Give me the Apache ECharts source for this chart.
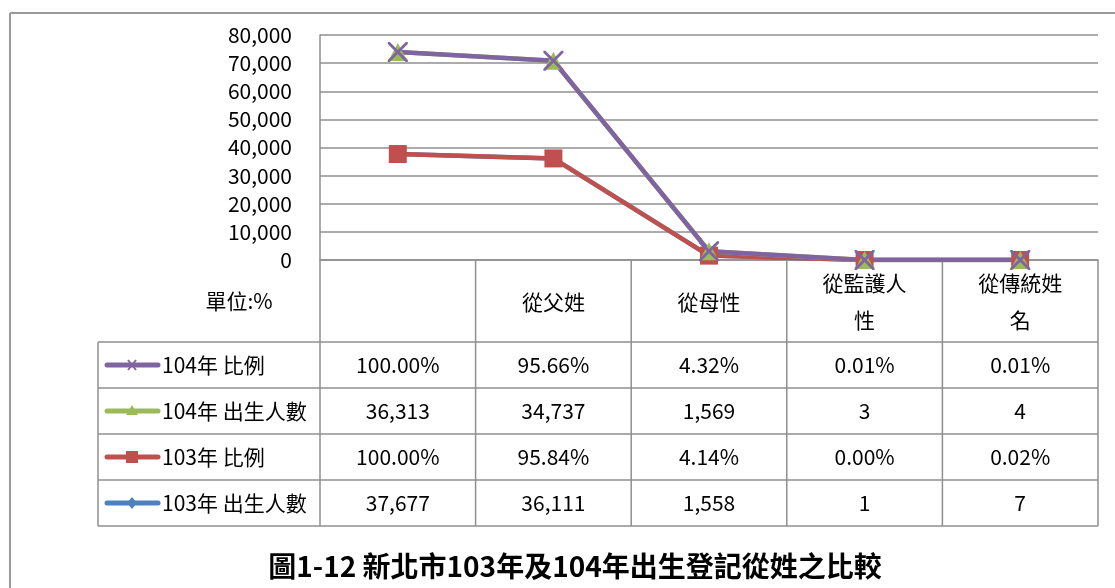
<!DOCTYPE html>
<html><head><meta charset="utf-8">
<script src="https://cdn.jsdelivr.net/npm/echarts@6/dist/echarts.min.js"></script>
<style>html,body{margin:0;padding:0;background:#fff}#c{width:1115px;height:588px}</style>
</head><body><div id="c"></div>
<script>
const categories = ['', '從父姓', '從母性', '從監護人\n性', '從傳統姓\n名'];
const births103 = [37677, 36111, 1558, 1, 7];
const ratio103 = [1.0000, 0.9584, 0.0414, 0.0000, 0.0002];
const births104 = [36313, 34737, 1569, 3, 4];
const ratio104 = [1.0000, 0.9566, 0.0432, 0.0001, 0.0001];
const yTicks = [0, 10000, 20000, 30000, 40000, 50000, 60000, 70000, 80000];
const seriesNames = ['104年 比例', '104年 出生人數', '103年 比例', '103年 出生人數'];
const unitLabel = '單位:%';
const titleText = '圖1-12 新北市103年及104年出生登記從姓之比較';

const FONT = '"Noto Sans CJK TC", "Noto Sans", sans-serif';
const GRAY = '#8f8f8f';
const C_PURPLE = '#8064A2', C_GREEN = '#9BBB59', C_RED = '#C0504D', C_BLUE = '#4F81BD';
const X_PATH = 'path://M0,0 L2,0 L10,8 L18,0 L20,0 L20,2 L12,10 L20,18 L20,20 L18,20 L10,12 L2,20 L0,20 L0,18 L8,10 L0,2 Z';

const fmtNum = v => v.toLocaleString('en-US');
const fmtPct = v => (v * 100).toFixed(2) + '%';

const chart = echarts.init(document.getElementById('c'));
chart.setOption({
  animation: false,
  title: { text: titleText, left: 570, textAlign: 'center', top: 547,
    textStyle: { fontFamily: FONT, fontSize: 28, fontWeight: 'bold', color: '#000' } },
  grid: { left: 320, top: 35, width: 778, height: 225, containLabel: false },
  xAxis: { type: 'category', data: categories, boundaryGap: true,
    axisLine: { lineStyle: { color: GRAY, width: 1.5 } }, axisTick: { show: false }, axisLabel: { show: false } },
  yAxis: { type: 'value', min: yTicks[0], max: yTicks[yTicks.length - 1], interval: yTicks[1] - yTicks[0],
    axisLine: { show: true, lineStyle: { color: GRAY, width: 1.5 } }, axisTick: { show: false },
    axisLabel: { margin: 28, color: '#000', fontFamily: FONT, fontSize: 21, formatter: v => fmtNum(v) },
    splitLine: { lineStyle: { color: GRAY, width: 1.5 } } },
  series: [
    { name: seriesNames[3], type: 'line', stack: 't', data: births103, symbol: 'diamond', symbolSize: 12,
      lineStyle: { color: C_BLUE, width: 4.5 }, itemStyle: { color: C_BLUE } },
    { name: seriesNames[2], type: 'line', stack: 't', data: ratio103, symbol: 'rect', symbolSize: 18,
      lineStyle: { color: C_RED, width: 4.5 }, itemStyle: { color: C_RED } },
    { name: seriesNames[1], type: 'line', stack: 't', data: births104, symbol: 'triangle', symbolSize: [19, 18],
      lineStyle: { color: C_GREEN, width: 4.5 }, itemStyle: { color: C_GREEN } },
    { name: seriesNames[0], type: 'line', stack: 't', data: ratio104, symbol: X_PATH, symbolSize: 20,
      lineStyle: { color: C_PURPLE, width: 4.5 }, itemStyle: { color: C_PURPLE } }
  ]
});

// Build frame + data table from the axis geometry
const cx = categories.map((_, i) => chart.convertToPixel({ xAxisIndex: 0 }, i));
const cw = cx[1] - cx[0];
const xL = cx[0] - cw / 2, xR = cx[cx.length - 1] + cw / 2;
const yBase = chart.convertToPixel({ yAxisIndex: 0 }, 0);
const headerH = 82, rowH = 46, legendLeft = 98;
const rows = [
  { name: seriesNames[0], vals: ratio104.map(fmtPct), color: C_PURPLE, sym: 'x' },
  { name: seriesNames[1], vals: births104.map(fmtNum), color: C_GREEN, sym: 'triangle' },
  { name: seriesNames[2], vals: ratio103.map(fmtPct), color: C_RED, sym: 'rect' },
  { name: seriesNames[3], vals: births103.map(fmtNum), color: C_BLUE, sym: 'diamond' }
];
const g = [];
const ls = { stroke: GRAY, lineWidth: 1.5 };
const line = (x1, y1, x2, y2, style) => g.push({ type: 'line', shape: { x1, y1, x2, y2 }, style: style || ls, silent: true });
// outer frame
line(10, 13, 1115, 13, { stroke: '#9a9a9a', lineWidth: 2 });
line(10, 13, 10, 588, { stroke: '#9a9a9a', lineWidth: 2 });
const yHead = yBase + headerH;
const yEnd = yHead + rowH * rows.length;
// horizontal lines
for (let r = 0; r <= rows.length; r++) line(legendLeft, yHead + r * rowH, xR, yHead + r * rowH);
// vertical lines
for (let i = 0; i <= categories.length; i++) line(xL + i * cw, yBase, xL + i * cw, yEnd);
line(legendLeft, yHead, legendLeft, yEnd);
// header texts
const txt = (x, y, text, align, extra) => g.push(Object.assign({ type: 'text', x, y, silent: true,
  style: { text, fill: '#000', font: '21px ' + FONT, textAlign: align || 'center', textVerticalAlign: 'middle', lineHeight: 37 } }, extra || {}));
txt(239, yBase + headerH / 2, unitLabel);
categories.forEach((c, i) => { if (c) txt(cx[i], yBase + headerH / 2 + 1, c); });
// rows
rows.forEach((r, ri) => {
  const ym = yHead + ri * rowH + rowH / 2;
  g.push({ type: 'line', shape: { x1: 107, y1: ym, x2: 158, y2: ym }, silent: true,
    style: { stroke: r.color, lineWidth: 5, lineCap: 'round' } });
  const mx = 132;
  if (r.sym === 'x') {
    line(mx - 4, ym - 5, mx + 4, ym + 5, { stroke: r.color, lineWidth: 2 });
    line(mx - 4, ym + 5, mx + 4, ym - 5, { stroke: r.color, lineWidth: 2 });
  } else if (r.sym === 'triangle') {
    g.push({ type: 'polygon', shape: { points: [[mx, ym - 6], [mx + 6, ym + 4], [mx - 6, ym + 4]] }, style: { fill: r.color }, silent: true });
  } else if (r.sym === 'rect') {
    g.push({ type: 'rect', shape: { x: mx - 6, y: ym - 6, width: 12, height: 12 }, style: { fill: r.color }, silent: true });
  } else {
    g.push({ type: 'polygon', shape: { points: [[mx, ym - 6], [mx + 5, ym], [mx, ym + 6], [mx - 5, ym]] }, style: { fill: r.color }, silent: true });
  }
  txt(162, ym, r.name, 'left');
  r.vals.forEach((v, i) => txt(cx[i], ym, v));
});
chart.setOption({ graphic: g });
</script></body></html>
